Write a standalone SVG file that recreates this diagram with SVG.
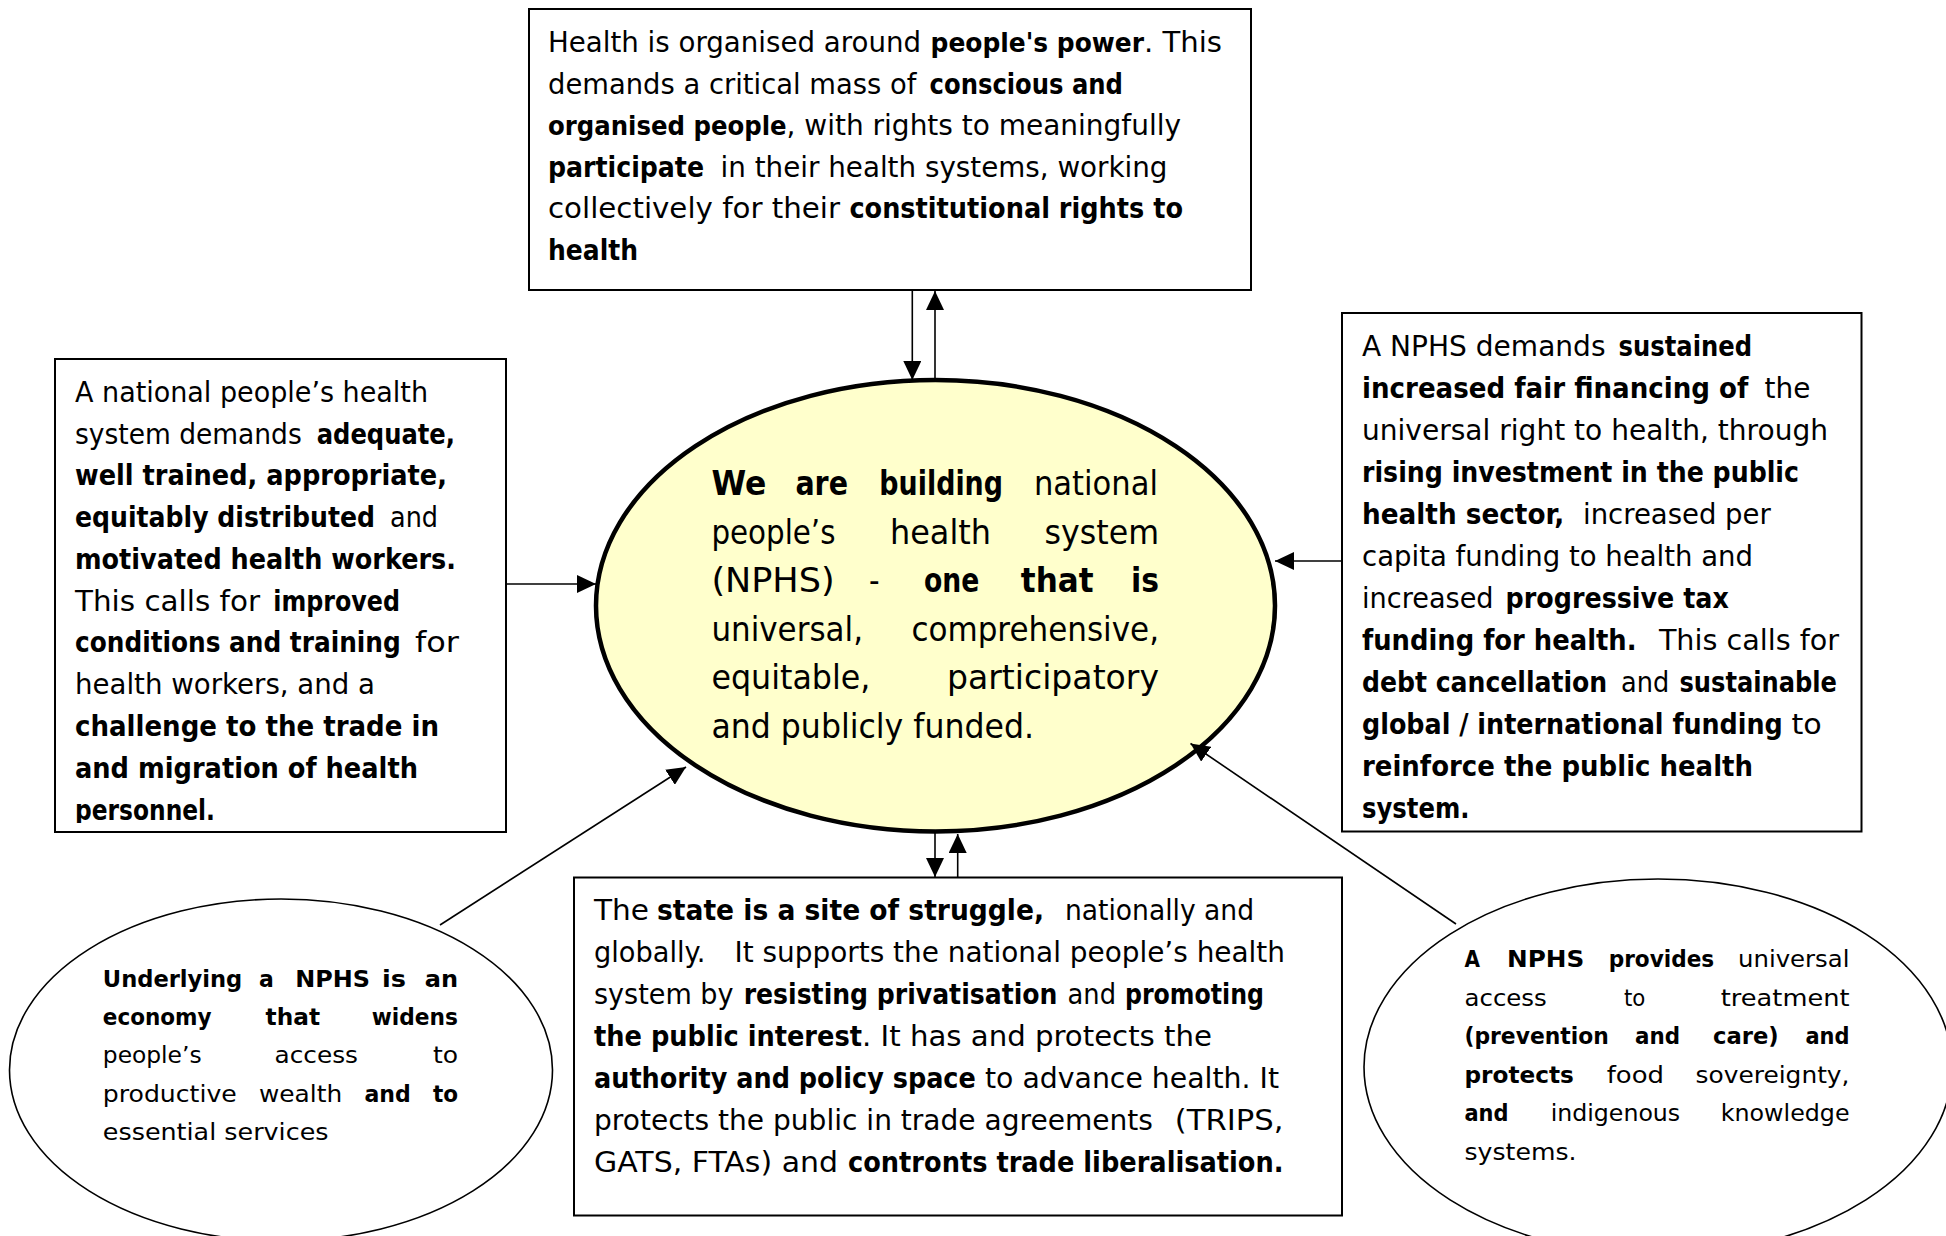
<svg xmlns="http://www.w3.org/2000/svg" width="1946" height="1236" viewBox="0 0 1946 1236">
<style>
.t{font-family:'DejaVu Sans',sans-serif;fill:#000}
.b{font-weight:bold}
.bc{font-weight:bold;font-family:'DejaVu Sans Condensed','DejaVu Sans',sans-serif;font-stretch:condensed}
.s27{font-size:27px}
.box{fill:#fff;stroke:#000;stroke-width:2}
.oval{fill:#fff;stroke:#000;stroke-width:1.6}
.core{fill:#ffffcc;stroke:#000;stroke-width:4.5}
.c{stroke:#000;stroke-width:1.6;fill:none;marker-end:url(#ah)}
.f28{font-size:28px}
.f33{font-size:33px}
.f23{font-size:23px}
</style>
<defs>
<marker id="ah" markerUnits="userSpaceOnUse" markerWidth="19" markerHeight="18" refX="19" refY="9" orient="auto">
<path d="M0,0 L19,9 L0,18 z" fill="#000"/>
</marker>
<clipPath id="clipLeft"><rect x="55" y="359" width="451" height="464"/></clipPath>
</defs>
<rect width="1946" height="1236" fill="#fff"/>

<g id="node-top">
<rect class="box" x="529" y="9" width="722" height="281"/>
<g class="t f28">
<text y="52"><tspan x="548" textLength="373" lengthAdjust="spacingAndGlyphs">Health is organised around</tspan><tspan class="bc s27" x="930.6" textLength="213.4" lengthAdjust="spacingAndGlyphs">people's power</tspan><tspan x="1144" textLength="78" lengthAdjust="spacingAndGlyphs">. This</tspan></text>
<text y="94"><tspan x="548" textLength="368.4" lengthAdjust="spacingAndGlyphs">demands a critical mass of</tspan><tspan class="b" x="929.6" textLength="193.4" lengthAdjust="spacingAndGlyphs">conscious and</tspan></text>
<text y="135"><tspan class="bc s27" x="548" textLength="238.6" lengthAdjust="spacingAndGlyphs">organised people</tspan><tspan x="786.6" textLength="394.4" lengthAdjust="spacingAndGlyphs">, with rights to meaningfully</tspan></text>
<text y="177"><tspan class="bc" x="548" textLength="156" lengthAdjust="spacingAndGlyphs">participate</tspan><tspan x="720.6" textLength="446.9" lengthAdjust="spacingAndGlyphs">in their health systems, working</tspan></text>
<text y="218"><tspan x="548" textLength="292" lengthAdjust="spacingAndGlyphs">collectively for their</tspan><tspan class="b" x="849.4" textLength="333.6" lengthAdjust="spacingAndGlyphs">constitutional rights to</tspan></text>
<text x="548" y="260" textLength="90" lengthAdjust="spacingAndGlyphs" class="b">health</text>
</g>
</g>

<g id="node-left">
<rect class="box" x="55" y="359" width="451" height="473"/>
<g class="t f28" clip-path="url(#clipLeft)">
<text x="75" y="402" textLength="353" lengthAdjust="spacingAndGlyphs">A national people’s health</text>
<text y="443.5"><tspan x="75" textLength="226.7" lengthAdjust="spacingAndGlyphs">system demands</tspan><tspan class="b" x="316.7" textLength="138.3" lengthAdjust="spacingAndGlyphs">adequate,</tspan></text>
<text x="75" y="485" textLength="372" lengthAdjust="spacingAndGlyphs" class="b">well trained, appropriate,</text>
<text y="527"><tspan class="bc" x="75" textLength="300" lengthAdjust="spacingAndGlyphs">equitably distributed</tspan><tspan x="390" textLength="48" lengthAdjust="spacingAndGlyphs">and</tspan></text>
<text x="75" y="569" textLength="381" lengthAdjust="spacingAndGlyphs" class="b">motivated health workers.</text>
<text y="611"><tspan x="75" textLength="185" lengthAdjust="spacingAndGlyphs">This calls for</tspan><tspan class="b" x="273.3" textLength="126.7" lengthAdjust="spacingAndGlyphs">improved</tspan></text>
<text y="652"><tspan class="bc" x="75" textLength="325.7" lengthAdjust="spacingAndGlyphs">conditions and training</tspan><tspan x="415" textLength="44" lengthAdjust="spacingAndGlyphs">for</tspan></text>
<text x="75" y="694" textLength="300" lengthAdjust="spacingAndGlyphs">health workers, and a</text>
<text x="75" y="736" textLength="364" lengthAdjust="spacingAndGlyphs" class="b">challenge to the trade in</text>
<text x="75" y="778" textLength="343" lengthAdjust="spacingAndGlyphs" class="b">and migration of health</text>
<text x="75" y="820" textLength="140" lengthAdjust="spacingAndGlyphs" class="b">personnel.</text>
</g>
</g>

<g id="node-right">
<rect class="box" x="1342" y="313" width="519.5" height="518.5"/>
<g class="t f28">
<text y="356"><tspan x="1362" textLength="243.5" lengthAdjust="spacingAndGlyphs">A NPHS demands</tspan><tspan class="b" x="1618.6" textLength="133.4" lengthAdjust="spacingAndGlyphs">sustained</tspan></text>
<text y="398"><tspan class="bc" x="1362" textLength="386.4" lengthAdjust="spacingAndGlyphs">increased fair financing of</tspan><tspan x="1764.6" textLength="45.8" lengthAdjust="spacingAndGlyphs">the</tspan></text>
<text x="1362" y="440" textLength="466" lengthAdjust="spacingAndGlyphs">universal right to health, through</text>
<text x="1362" y="482" textLength="437" lengthAdjust="spacingAndGlyphs" class="b">rising investment in the public</text>
<text y="524"><tspan class="bc" x="1362" textLength="202.2" lengthAdjust="spacingAndGlyphs">health sector,</tspan><tspan x="1583" textLength="187.8" lengthAdjust="spacingAndGlyphs">increased per</tspan></text>
<text x="1362" y="566" textLength="391" lengthAdjust="spacingAndGlyphs">capita funding to health and</text>
<text y="608"><tspan x="1362" textLength="131.6" lengthAdjust="spacingAndGlyphs">increased</tspan><tspan class="b" x="1505.6" textLength="223.2" lengthAdjust="spacingAndGlyphs">progressive tax</tspan></text>
<text y="650"><tspan class="bc" x="1362" textLength="274.5" lengthAdjust="spacingAndGlyphs">funding for health.</tspan><tspan x="1658.9" textLength="180.1" lengthAdjust="spacingAndGlyphs">This calls for</tspan></text>
<text y="692"><tspan class="bc" x="1362" textLength="245.2" lengthAdjust="spacingAndGlyphs">debt cancellation</tspan><tspan x="1621" textLength="48.2" lengthAdjust="spacingAndGlyphs">and</tspan><tspan class="b" x="1679.5" textLength="157.4" lengthAdjust="spacingAndGlyphs">sustainable</tspan></text>
<text y="734"><tspan class="bc" x="1362" textLength="420.8" lengthAdjust="spacingAndGlyphs">global / international funding</tspan><tspan x="1791.4" textLength="30.3" lengthAdjust="spacingAndGlyphs">to</tspan></text>
<text x="1362" y="776" textLength="391" lengthAdjust="spacingAndGlyphs" class="b">reinforce the public health</text>
<text x="1362" y="818" textLength="107.5" lengthAdjust="spacingAndGlyphs" class="b">system.</text>
</g>
</g>

<g id="node-bottom">
<rect class="box" x="574" y="877.5" width="768" height="338"/>
<g class="t f28">
<text y="920"><tspan x="594" textLength="55" lengthAdjust="spacingAndGlyphs">The</tspan><tspan class="bc" x="657" textLength="387" lengthAdjust="spacingAndGlyphs">state is a site of struggle,</tspan><tspan x="1065" textLength="189" lengthAdjust="spacingAndGlyphs">nationally and</tspan></text>
<text y="962"><tspan x="594" textLength="111.4" lengthAdjust="spacingAndGlyphs">globally.</tspan><tspan x="734.5" textLength="550.5" lengthAdjust="spacingAndGlyphs">It supports the national people’s health</tspan></text>
<text y="1004"><tspan x="594" textLength="139.5" lengthAdjust="spacingAndGlyphs">system by</tspan><tspan class="bc" x="743.7" textLength="313.7" lengthAdjust="spacingAndGlyphs">resisting privatisation</tspan><tspan x="1067.6" textLength="48.4" lengthAdjust="spacingAndGlyphs">and</tspan><tspan class="b" x="1125" textLength="139" lengthAdjust="spacingAndGlyphs">promoting</tspan></text>
<text y="1046"><tspan class="bc" x="594" textLength="268" lengthAdjust="spacingAndGlyphs">the public interest</tspan><tspan x="862" textLength="350" lengthAdjust="spacingAndGlyphs">. It has and protects the</tspan></text>
<text y="1088"><tspan class="bc" x="594" textLength="381.8" lengthAdjust="spacingAndGlyphs">authority and policy space</tspan><tspan x="985" textLength="294" lengthAdjust="spacingAndGlyphs">to advance health. It</tspan></text>
<text y="1130"><tspan x="594" textLength="558.9" lengthAdjust="spacingAndGlyphs">protects the public in trade agreements</tspan><tspan x="1174.8" textLength="108.7" lengthAdjust="spacingAndGlyphs">(TRIPS,</tspan></text>
<text y="1172"><tspan x="594" textLength="244" lengthAdjust="spacingAndGlyphs">GATS, FTAs) and</tspan><tspan class="b" x="848" textLength="435.5" lengthAdjust="spacingAndGlyphs">contronts trade liberalisation.</tspan></text>
</g>
</g>

<g id="node-economy">
<ellipse class="oval" cx="281" cy="1070" rx="271.5" ry="171"/>
<g class="t f23">
<text y="986.7" class="b"><tspan x="102.8" textLength="139.5" lengthAdjust="spacingAndGlyphs">Underlying</tspan><tspan x="259" textLength="14.8" lengthAdjust="spacingAndGlyphs">a</tspan><tspan x="295.2" textLength="74.8" lengthAdjust="spacingAndGlyphs">NPHS</tspan><tspan x="382" textLength="24" lengthAdjust="spacingAndGlyphs">is</tspan><tspan x="424.7" textLength="33.3" lengthAdjust="spacingAndGlyphs">an</tspan></text>
<text y="1025" class="b"><tspan x="102.8" textLength="108.8" lengthAdjust="spacingAndGlyphs">economy</tspan><tspan x="265.6" textLength="54.4" lengthAdjust="spacingAndGlyphs">that</tspan><tspan x="371.8" textLength="86.2" lengthAdjust="spacingAndGlyphs">widens</tspan></text>
<text y="1063"><tspan x="102.8" textLength="98.8" lengthAdjust="spacingAndGlyphs">people’s</tspan><tspan x="274.5" textLength="83.5" lengthAdjust="spacingAndGlyphs">access</tspan><tspan x="432.9" textLength="25.1" lengthAdjust="spacingAndGlyphs">to</tspan></text>
<text y="1101.5"><tspan x="102.8" textLength="134" lengthAdjust="spacingAndGlyphs">productive</tspan><tspan x="259" textLength="83.2" lengthAdjust="spacingAndGlyphs">wealth</tspan><tspan class="b" x="364.4" textLength="46.3" lengthAdjust="spacingAndGlyphs">and</tspan><tspan class="b" x="432.9" textLength="25.1" lengthAdjust="spacingAndGlyphs">to</tspan></text>
<text x="102.8" y="1140" textLength="225.7" lengthAdjust="spacingAndGlyphs">essential services</text>
</g>
</g>

<g id="node-access">
<ellipse class="oval" cx="1658" cy="1067" rx="294" ry="188"/>
<g class="t f23">
<text y="967"><tspan class="b" x="1464.5" textLength="15.5" lengthAdjust="spacingAndGlyphs">A</tspan><tspan class="b" x="1507" textLength="77.3" lengthAdjust="spacingAndGlyphs">NPHS</tspan><tspan class="b" x="1608.7" textLength="105.5" lengthAdjust="spacingAndGlyphs">provides</tspan><tspan x="1738" textLength="111.5" lengthAdjust="spacingAndGlyphs">universal</tspan></text>
<text y="1005.5"><tspan x="1464.5" textLength="82.3" lengthAdjust="spacingAndGlyphs">access</tspan><tspan x="1624" textLength="21.4" lengthAdjust="spacingAndGlyphs">to</tspan><tspan x="1720.8" textLength="128.7" lengthAdjust="spacingAndGlyphs">treatment</tspan></text>
<text y="1044" class="b"><tspan x="1464.5" textLength="144.2" lengthAdjust="spacingAndGlyphs">(prevention</tspan><tspan x="1635" textLength="45" lengthAdjust="spacingAndGlyphs">and</tspan><tspan x="1713" textLength="65.7" lengthAdjust="spacingAndGlyphs">care)</tspan><tspan x="1805.5" textLength="44" lengthAdjust="spacingAndGlyphs">and</tspan></text>
<text y="1082.5"><tspan class="b" x="1464.5" textLength="109.4" lengthAdjust="spacingAndGlyphs">protects</tspan><tspan x="1606.7" textLength="57.3" lengthAdjust="spacingAndGlyphs">food</tspan><tspan x="1695.6" textLength="153.9" lengthAdjust="spacingAndGlyphs">sovereignty,</tspan></text>
<text y="1121"><tspan class="b" x="1464.5" textLength="44" lengthAdjust="spacingAndGlyphs">and</tspan><tspan x="1550.7" textLength="129.5" lengthAdjust="spacingAndGlyphs">indigenous</tspan><tspan x="1720.8" textLength="128.7" lengthAdjust="spacingAndGlyphs">knowledge</tspan></text>
<text x="1464.5" y="1159.5" textLength="112" lengthAdjust="spacingAndGlyphs">systems.</text>
</g>
</g>

<g id="node-core">
<ellipse class="core" cx="935.5" cy="605.7" rx="339.5" ry="225.7"/>
<g class="t f33">
<text y="495"><tspan class="b" x="711.4" textLength="54.9" lengthAdjust="spacingAndGlyphs">We</tspan><tspan class="b" x="795.4" textLength="52.6" lengthAdjust="spacingAndGlyphs">are</tspan><tspan class="b" x="879.3" textLength="123.7" lengthAdjust="spacingAndGlyphs">building</tspan><tspan x="1034" textLength="123.9" lengthAdjust="spacingAndGlyphs">national</tspan></text>
<text y="543.6"><tspan x="711.4" textLength="124.1" lengthAdjust="spacingAndGlyphs">people’s</tspan><tspan x="890" textLength="101" lengthAdjust="spacingAndGlyphs">health</tspan><tspan x="1044.5" textLength="114.5" lengthAdjust="spacingAndGlyphs">system</tspan></text>
<text y="592.2"><tspan x="711.4" textLength="123.2" lengthAdjust="spacingAndGlyphs">(NPHS)</tspan><tspan x="869" textLength="10.6" lengthAdjust="spacingAndGlyphs">-</tspan><tspan class="b" x="924" textLength="55.3" lengthAdjust="spacingAndGlyphs">one</tspan><tspan class="b" x="1020.8" textLength="72.8" lengthAdjust="spacingAndGlyphs">that</tspan><tspan class="b" x="1131" textLength="28" lengthAdjust="spacingAndGlyphs">is</tspan></text>
<text y="640.8"><tspan x="711.4" textLength="151.6" lengthAdjust="spacingAndGlyphs">universal,</tspan><tspan x="911.4" textLength="247.6" lengthAdjust="spacingAndGlyphs">comprehensive,</tspan></text>
<text y="689.4"><tspan x="711.4" textLength="159" lengthAdjust="spacingAndGlyphs">equitable,</tspan><tspan x="947" textLength="212" lengthAdjust="spacingAndGlyphs">participatory</tspan></text>
<text x="711.4" y="738" textLength="322.6" lengthAdjust="spacingAndGlyphs">and publicly funded.</text>
</g>
</g>

<g id="connectors">
<line class="c" x1="912.3" y1="290" x2="912.3" y2="380"/>
<line class="c" x1="935" y1="380" x2="935" y2="291"/>
<line class="c" x1="506" y1="584" x2="596" y2="584"/>
<line class="c" x1="1342" y1="561" x2="1275" y2="561"/>
<line class="c" x1="935" y1="833" x2="935" y2="877"/>
<line class="c" x1="957.7" y1="877" x2="957.7" y2="834"/>
<line class="c" x1="440" y1="925" x2="686" y2="767"/>
<line class="c" x1="1456" y1="924" x2="1190.5" y2="743.5"/>
</g>
</svg>
